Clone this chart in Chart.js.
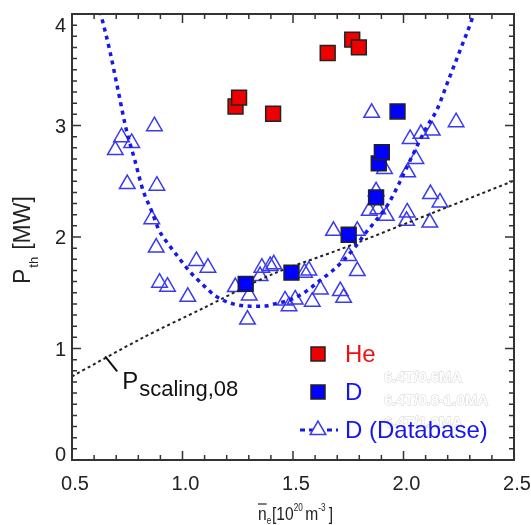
<!DOCTYPE html>
<html lang="en">

<head>
    <meta charset="UTF-8">
    <script src="https://cdn.jsdelivr.net/npm/chart.js"></script>
    <title>Pth x densidade</title>
    <style>
        html, body { margin: 0; padding: 0; background: #fff; }
        #grafico { display: block; }
    </style>
</head>

<body>
    <canvas id="grafico" width="531" height="525"></canvas>

    <script>
        // He (quadrados vermelhos)
        const heX = [1.240, 1.256, 1.410, 1.657, 1.768, 1.798]
        const heY = [3.17, 3.25, 3.105, 3.65, 3.77, 3.70]

        // D (quadrados azuis)
        const dX = [1.286, 1.493, 1.752, 1.876, 1.888, 1.902, 1.973]
        const dY = [1.58, 1.68, 2.02, 2.355, 2.66, 2.76, 3.126]

        // D (Database), triangulos
        const dbX = [0.696, 0.724, 0.770, 0.750, 0.873, 0.884, 0.861, 0.881, 0.896, 0.932,
            1.024, 1.063, 1.115, 1.239, 1.302, 1.294, 1.351, 1.359, 1.397, 1.413,
            1.464, 1.482, 1.510, 1.552, 1.572, 1.587, 1.624, 1.714, 1.729, 1.683,
            1.752, 1.791, 1.791, 1.845, 1.856, 1.876, 1.883, 1.922, 1.914, 2.017,
            2.014, 2.019, 2.030, 2.056, 2.079, 2.130, 2.122, 2.119, 2.165, 2.238]
        const dbY = [2.78, 2.895, 2.844, 2.475, 2.994, 2.46, 2.16, 1.905, 1.59, 1.554,
            1.464, 1.785, 1.725, 1.551, 1.476, 1.26, 1.65, 1.725, 1.74, 1.755,
            1.431, 1.38, 1.44, 1.68, 1.70, 1.42, 1.53, 1.515, 1.455, 2.055,
            1.83, 1.695, 2.055, 2.235, 3.114, 2.41, 2.25, 2.19, 2.61, 2.22,
            2.145, 2.58, 2.88, 2.70, 2.925, 2.955, 2.385, 2.13, 2.31, 3.03]

        // curva em U do database
        const curvaX = [0.618, 0.633, 0.670, 0.708, 0.746, 0.784, 0.821, 0.859, 0.894, 0.927,
            0.973, 1.033, 1.093, 1.154, 1.229, 1.305, 1.365, 1.426, 1.486, 1.550,
            1.622, 1.680, 1.728, 1.781, 1.826, 1.872, 1.932, 1.980, 2.038, 2.106,
            2.151, 2.204, 2.257, 2.311, 2.325]
        const curvaY = [4.10, 3.98, 3.68, 3.32, 2.96, 2.69, 2.42, 2.24, 2.06, 1.96,
            1.84, 1.69, 1.57, 1.465, 1.40, 1.38, 1.38, 1.405, 1.435, 1.50,
            1.61, 1.70, 1.79, 1.91, 2.03, 2.14, 2.30, 2.48, 2.72, 2.99,
            3.14, 3.41, 3.68, 3.96, 4.05]

        // P scaling,08
        const escalaX = [0.5, 0.819, 1.097, 1.405, 1.714, 2.022, 2.5]
        const escalaY = [0.75, 1.095, 1.365, 1.665, 1.89, 2.13, 2.505]

        const xTickValores = [0.5, 1.0, 1.5, 2.0, 2.5]
        const xTickLabels = ['0.5', '1.0', '1.5', '2.0', '2.5']
        const yTickValores = [0, 1, 2, 3, 4]
        const yTickLabels = ['0', '1', '2', '3', '4']

        const legendaTextos = ['He', 'D', 'D (Database)']
        const notasTextos = ['6.4T/0.6MA', '6.4T/0.8-1.0MA', '6.4T/1.2MA']

        const fonte = '"Liberation Sans", Arial, sans-serif'
        const azul = '#1616ee'
        const azulTri = '#3a3aee'

        function pares(xs, ys) {
            var lista = []
            for (var i = 0; i < xs.length; i++) {
                lista.push({ x: xs[i], y: ys[i] })
            }
            return lista
        }

        // eixos, ticks para dentro, legenda e textos
        const molduraPlugin = {
            id: 'moldura',
            afterDatasetsDraw(chart) {
                const ctx = chart.ctx
                const a = chart.chartArea
                const sx = chart.scales.x
                const sy = chart.scales.y
                ctx.save()

                ctx.strokeStyle = '#333'
                ctx.lineWidth = 1.5
                ctx.beginPath()
                for (let i = 5; i <= 25; i++) {
                    const px = sx.getPixelForValue(i / 10)
                    const len = i % 5 === 0 ? 9 : 5
                    ctx.moveTo(px, a.bottom); ctx.lineTo(px, a.bottom - len)
                    ctx.moveTo(px, a.top); ctx.lineTo(px, a.top + len)
                }
                for (let i = 0; i <= 40; i++) {
                    const py = sy.getPixelForValue(i / 10)
                    const len = i % 10 === 0 ? 9 : 5
                    ctx.moveTo(a.left, py); ctx.lineTo(a.left + len, py)
                    ctx.moveTo(a.right, py); ctx.lineTo(a.right - len, py)
                }
                ctx.stroke()

                ctx.lineWidth = 2
                ctx.strokeRect(a.left, a.top, a.right - a.left, a.bottom - a.top)

                // labels dos ticks
                ctx.fillStyle = '#222'
                ctx.font = '20px ' + fonte
                ctx.textAlign = 'center'
                ctx.textBaseline = 'alphabetic'
                for (let i = 0; i < xTickValores.length; i++) {
                    ctx.fillText(xTickLabels[i], sx.getPixelForValue(xTickValores[i]) + 3, a.bottom + 30)
                }
                ctx.textAlign = 'right'
                for (let i = 0; i < yTickValores.length; i++) {
                    let desl = 7
                    if (i === yTickValores.length - 1) desl = 18
                    if (i === 0) desl = 1
                    ctx.fillText(yTickLabels[i], a.left - 6, sy.getPixelForValue(yTickValores[i]) + desl)
                }
                ctx.textAlign = 'left'

                // titulo eixo y: P_th [MW]
                ctx.save()
                ctx.translate(30, 284)
                ctx.rotate(-Math.PI / 2)
                ctx.font = '23px ' + fonte
                ctx.fillText('P', 0, 0)
                let w = ctx.measureText('P').width
                ctx.font = '13px ' + fonte
                ctx.fillText('th', w + 1, 8)
                w += 1 + ctx.measureText('th').width + 7
                ctx.font = '23px ' + fonte
                ctx.fillText('[MW]', w, 0)
                ctx.restore()

                // titulo eixo x: n_e [10^20 m^-3], fonte estreita
                ctx.save()
                ctx.translate(258, 520)
                ctx.scale(0.82, 1)
                let tx = 0
                ctx.font = '19px ' + fonte
                ctx.fillText('n', tx, 0)
                let nw = ctx.measureText('n').width
                ctx.lineWidth = 1.3
                ctx.beginPath(); ctx.moveTo(tx, -16); ctx.lineTo(tx + nw, -16); ctx.stroke()
                tx += nw
                ctx.font = '10px ' + fonte
                ctx.fillText('e', tx, 4)
                tx += ctx.measureText('e').width + 1
                ctx.font = '19px ' + fonte
                ctx.fillText('[10', tx, 0)
                tx += ctx.measureText('[10').width
                ctx.font = '10px ' + fonte
                ctx.fillText('20', tx, -9)
                tx += ctx.measureText('20').width + 3
                ctx.font = '19px ' + fonte
                ctx.fillText('m', tx, 0)
                tx += ctx.measureText('m').width
                ctx.font = '10px ' + fonte
                ctx.fillText('-3', tx, -9)
                tx += ctx.measureText('-3').width + 4
                ctx.font = '19px ' + fonte
                ctx.fillText(']', tx, 0)
                ctx.restore()

                // anotacao P scaling,08
                const ax = sx.getPixelForValue(0.65)
                const ay = sy.getPixelForValue(0.93)
                ctx.strokeStyle = '#111'
                ctx.lineWidth = 2
                ctx.beginPath(); ctx.moveTo(ax, ay); ctx.lineTo(ax + 12, ay + 15); ctx.stroke()
                ctx.fillStyle = '#111'
                ctx.font = '24px ' + fonte
                ctx.fillText('P', ax + 17, ay + 33)
                const pw = ctx.measureText('P').width
                ctx.font = '22px ' + fonte
                ctx.fillText('scaling,08', ax + 18 + pw, ay + 40)

                // textos apagados
                ctx.font = 'bold 15px ' + fonte
                ctx.fillStyle = '#fff'
                ctx.strokeStyle = '#d4d4d4'
                ctx.lineWidth = 1
                for (let i = 0; i < notasTextos.length; i++) {
                    ctx.strokeText(notasTextos[i], 384, 382 + i * 22.5)
                    ctx.fillText(notasTextos[i], 384, 382 + i * 22.5)
                }

                // legenda
                const lx = 318
                const ly = [354, 392, 430]
                const cores = ['#ee1111', azul, azul]
                ctx.lineWidth = 1.5
                ctx.strokeStyle = '#222'
                ctx.fillStyle = '#ee0000'
                ctx.fillRect(lx - 7, ly[0] - 7, 14, 14); ctx.strokeRect(lx - 7, ly[0] - 7, 14, 14)
                ctx.fillStyle = '#0000ff'
                ctx.fillRect(lx - 7, ly[1] - 7, 14, 14); ctx.strokeRect(lx - 7, ly[1] - 7, 14, 14)
                ctx.strokeStyle = azul
                ctx.lineWidth = 3
                ctx.setLineDash([5, 4])
                ctx.beginPath(); ctx.moveTo(300, ly[2]); ctx.lineTo(338, ly[2]); ctx.stroke()
                ctx.setLineDash([])
                const r = 9
                ctx.beginPath()
                ctx.moveTo(lx, ly[2] - r)
                ctx.lineTo(lx + r * 0.866, ly[2] + r / 2)
                ctx.lineTo(lx - r * 0.866, ly[2] + r / 2)
                ctx.closePath()
                ctx.fillStyle = '#fff'
                ctx.fill()
                ctx.strokeStyle = azulTri
                ctx.lineWidth = 1.5
                ctx.stroke()

                ctx.font = '24px ' + fonte
                ctx.textBaseline = 'middle'
                for (let i = 0; i < legendaTextos.length; i++) {
                    ctx.fillStyle = cores[i]
                    ctx.fillText(legendaTextos[i], 345, ly[i] + 1)
                }

                ctx.restore()
            }
        }

        const config = {
            type: 'scatter',
            data: {
                datasets: [
                    {
                        label: 'He',
                        data: pares(heX, heY),
                        pointStyle: 'rect',
                        pointRadius: 10.5,
                        backgroundColor: '#ee0000',
                        borderColor: '#222',
                        borderWidth: 1.5,
                        order: 1
                    },
                    {
                        label: 'D',
                        data: pares(dX, dY),
                        pointStyle: 'rect',
                        pointRadius: 10.5,
                        backgroundColor: '#0000ff',
                        borderColor: '#222',
                        borderWidth: 1.5,
                        order: 2
                    },
                    {
                        label: 'curva',
                        data: pares(curvaX, curvaY),
                        showLine: true,
                        pointRadius: 0,
                        borderColor: azul,
                        borderWidth: 3.5,
                        borderDash: [4, 4.5],
                        cubicInterpolationMode: 'monotone',
                        order: 3
                    },
                    {
                        label: 'P scaling,08',
                        data: pares(escalaX, escalaY),
                        showLine: true,
                        pointRadius: 0,
                        borderColor: '#222',
                        borderWidth: 2,
                        borderDash: [3, 3],
                        tension: 0.3,
                        order: 4
                    },
                    {
                        label: 'D (Database)',
                        data: pares(dbX, dbY),
                        pointStyle: 'triangle',
                        pointRadius: 9,
                        backgroundColor: 'rgba(0,0,0,0)',
                        borderColor: azulTri,
                        borderWidth: 1.5,
                        order: 5
                    }
                ]
            },
            options: {
                responsive: false,
                animation: false,
                devicePixelRatio: 1,
                layout: {
                    padding: { left: 72, right: 17, top: 14, bottom: 65 }
                },
                plugins: {
                    legend: { display: false },
                    tooltip: { enabled: false }
                },
                scales: {
                    x: { type: 'linear', min: 0.5, max: 2.5, display: false },
                    y: { type: 'linear', min: 0, max: 4, display: false }
                }
            },
            plugins: [molduraPlugin]
        }

        var grafico = new Chart(document.getElementById('grafico'), config)
    </script>
</body>

</html>
